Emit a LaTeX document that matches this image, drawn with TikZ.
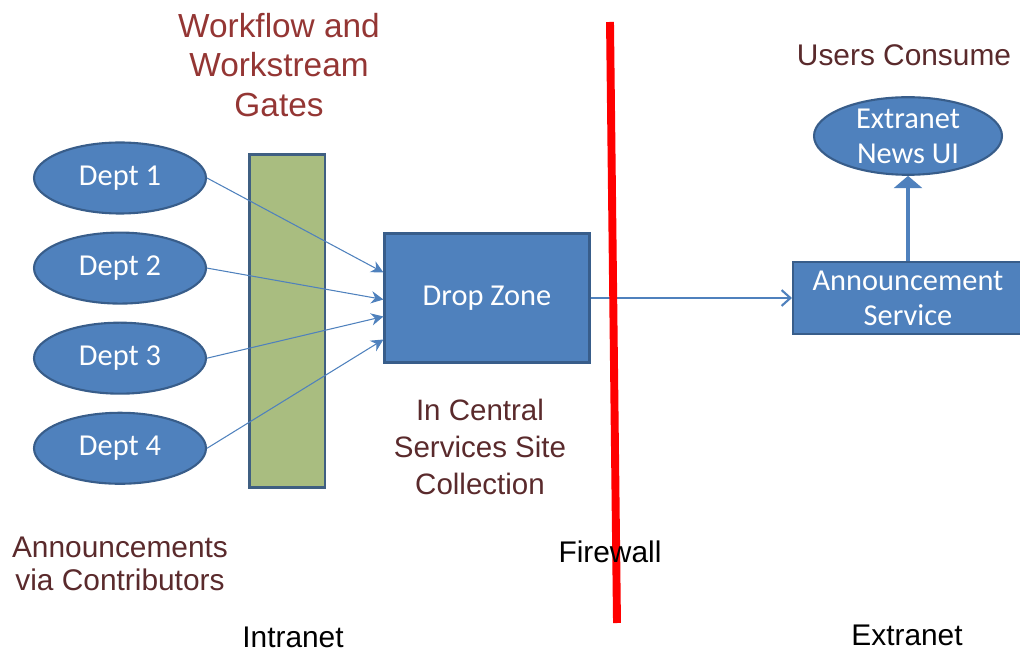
\documentclass[tikz,border=0pt]{standalone}
\usepackage{fontspec}
\setmainfont{Liberation Sans}
\newfontfamily\boxfont{Carlito}
\usepackage{xcolor}
\usepackage{tikz}
\usetikzlibrary{positioning}
\usetikzlibrary{shapes.geometric}
\usetikzlibrary{arrows.meta}

\definecolor{boxblue}{HTML}{4F81BD}
\definecolor{boxedge}{HTML}{385D8A}
\definecolor{gatefill}{HTML}{A9BD80}
\definecolor{gateedge}{HTML}{3F5F82}
\definecolor{labelred}{HTML}{943634}
\definecolor{labeldark}{HTML}{5A2A2C}

\begin{document}
\begin{tikzpicture}[
    x=0.02cm, y=-0.02cm,
    dept/.style={ellipse, draw=boxedge, fill=boxblue, line width=1.2pt, minimum width=3.44cm, minimum height=1.42cm, inner sep=0pt, text=white, align=center, font=\boxfont\fontsize{17.3}{20}\selectfont},
    bluebox/.style={rectangle, draw=boxedge, fill=boxblue, line width=1.2pt, inner sep=0pt, text=white, align=center, font=\boxfont\fontsize{17.3}{20}\selectfont},
    note/.style={align=center, inner sep=0pt, font=\fontsize{17}{18.5}\selectfont},
    feed/.style={draw=boxblue, line width=0.6pt, -{Stealth[length=7pt,width=7pt]}}
]
\useasboundingbox (0,0) rectangle (1020,651);

% intranet side
\node[dept] (d1) at (120,178) {Dept 1};
\node[dept] (d2) [below=0.34cm of d1] {Dept 2};
\node[dept] (d3) [below=0.34cm of d2] {Dept 3};
\node[dept] (d4) [below=0.34cm of d3] {Dept 4};
\node[rectangle, draw=gateedge, fill=gatefill, line width=1.7pt, minimum width=1.52cm, minimum height=6.66cm] (gate) at (287,321) {};
\node[bluebox, minimum width=4.1cm, minimum height=2.58cm] (drop) at (487,298) {Drop Zone};

% extranet side
\node[bluebox, minimum width=4.6cm, minimum height=1.44cm] (announce) at (908,298) {Announcement\\Service};
\node[dept, minimum width=3.76cm, minimum height=1.44cm] (newsui) at (908,136) {Extranet\\News UI};

\draw[feed] (d1.east) to ([yshift=0.51cm]drop.west);
\draw[feed] (d2.east) to ([yshift=-0.03cm]drop.west);
\draw[feed] (d3.east) to ([yshift=-0.37cm]drop.west);
\draw[feed] (d4.east) to ([yshift=-0.83cm]drop.west);
\draw[draw=boxblue, line width=1.2pt, -{Straight Barb[length=5pt,width=9pt]}] (drop.east) to (announce.west);
\draw[draw=boxblue, line width=2.8pt, -{Triangle[length=7pt,width=16pt]}] (announce.north) to (newsui.south);

% firewall
\coordinate (fwtop) at (610,22);
\coordinate (fwbot) at (617,623);
\draw[red, line width=4.5pt] (fwtop) -- (fwbot);

% labels
\node[note, text=labelred, font=\fontsize{19}{22.7}\selectfont] (gatelabel) at (279,65) {Workflow and\\Workstream\\Gates};
\node[note, text=labeldark] (consume) at (904,55) {Users Consume};
\node[note, text=labeldark, font=\fontsize{16.8}{21}\selectfont] (central) at (480,447) {In Central\\Services Site\\Collection};
\node[note, text=labeldark] (contrib) at (120,564) {Announcements\\via Contributors};
\node[note] (fwlabel) at (610,552) {Firewall};
\node[note] (intra) at (293,637) {Intranet};
\node[note] (extra) at (907,635) {Extranet};
\end{tikzpicture}
\end{document}
